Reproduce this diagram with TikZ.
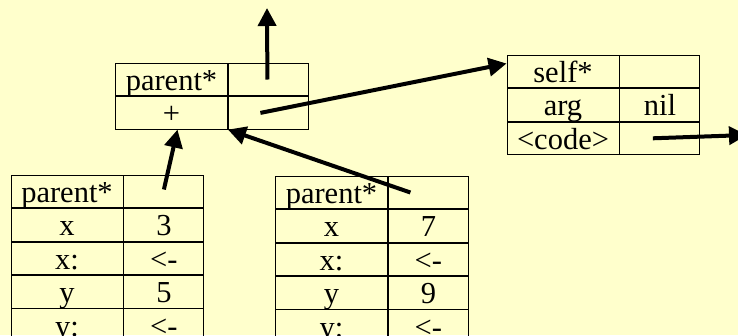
\documentclass[tikz,border=0pt]{standalone}
\usepackage{fontspec}
\usepackage{tikz}
\usetikzlibrary{arrows.meta,positioning}
\setmainfont{Liberation Serif}
\definecolor{paper}{HTML}{FFFFCC}
\newcommand{\slotfont}{\rmfamily\fontsize{30.5}{32}\selectfont}

\begin{document}
\begin{tikzpicture}[x=1pt,y=-1pt,
    key/.style={draw, line width=0.9pt, minimum width=112, minimum height=32.5, inner sep=0pt,
                text height=23pt, text depth=1pt, font=\slotfont},
    val/.style={key, minimum width=80},
    ptr/.style={line width=4pt, -{Triangle[length=18pt,width=18pt]}}]
  \fill[paper] (0,0) rectangle (738,335);
  \useasboundingbox (0,0) rectangle (738,335);
  % the shared parent object
  \path (171.5,79.5) node[key] (tp) {parent*}
        node[val, right=0pt of tp] (tpv) {}
        node[key, below=0pt of tp] (tplus) {+}
        node[val, right=0pt of tplus] (tplusv) {};
  % the method object
  \path (563,71.5) node[key] (sf) {self*}
        node[val, right=0pt of sf] (sfv) {}
        node[key, below=0pt of sf] (arg) {arg}
        node[val, right=0pt of arg] (argv) {nil}
        node[key, below=0pt of arg] (code) {<code>}
        node[val, right=0pt of code] (codev) {};
  % first point
  \path (67,191.5) node[key] (ap) {parent*}
        node[val, right=0pt of ap] (apv) {}
        node[key, below=0pt of ap] (ax) {x}
        node[val, right=0pt of ax] (axv) {3}
        node[key, below=0pt of ax] (axs) {x:}
        node[val, right=0pt of axs] (axsv) {<-}
        node[key, below=0pt of axs] (ay) {y}
        node[val, right=0pt of ay] (ayv) {5}
        node[key, below=0pt of ay] (ays) {y:}
        node[val, right=0pt of ays] (aysv) {<-};
  % second point
  \path (331.5,192.5) node[key] (bp) {parent*}
        node[val, right=0pt of bp] (bpv) {}
        node[key, below=0pt of bp] (bx) {x}
        node[val, right=0pt of bx] (bxv) {7}
        node[key, below=0pt of bx] (bxs) {x:}
        node[val, right=0pt of bxs] (bxsv) {<-}
        node[key, below=0pt of bxs] (by) {y}
        node[val, right=0pt of by] (byv) {9}
        node[key, below=0pt of by] (bys) {y:}
        node[val, right=0pt of bys] (bysv) {<-};
  \coordinate (up) at (267,8);
  \coordinate (out) at (747,135);
  \draw[ptr] ([xshift=-1pt]tpv.center) -- (up);
  \draw[ptr] ([xshift=-8pt]tplusv.center) -- ([yshift=8pt]sf.west);
  \draw[ptr] ([xshift=-7pt]codev.center) -- (out);
  \draw[ptr] ([yshift=2pt]apv.center) -- ([xshift=6pt]tplus.south);
  \draw[ptr] ([xshift=-18pt]bpv.center) -- (tplus.south east);
\end{tikzpicture}
\end{document}
